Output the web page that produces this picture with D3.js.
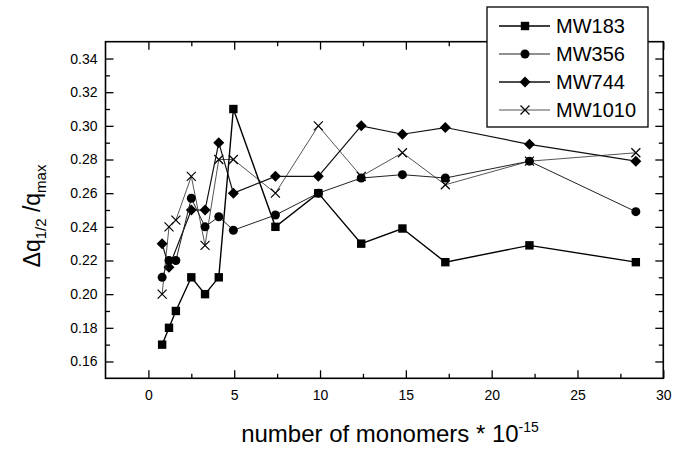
<!DOCTYPE html>
<html><head><meta charset="utf-8">
<script src="https://cdn.jsdelivr.net/npm/d3@7"></script>
<style>
body{margin:0;background:#fff;}
text{font-family:Arial,"Liberation Sans",Helvetica,sans-serif;}
</style></head>
<body><svg id="chart" width="684" height="449"></svg>
<script>
// ---- data ----
const xValues = [0.8, 1.2, 1.6, 2.5, 3.3, 4.1, 4.95, 7.4, 9.9, 12.4, 14.8, 17.3, 22.2, 28.4];
const mw183  = [0.170, 0.180, 0.190, 0.210, 0.200, 0.210, 0.310, 0.240, 0.260, 0.230, 0.239, 0.219, 0.229, 0.219];
const mw356  = [0.210, 0.220, 0.220, 0.257, 0.240, 0.246, 0.238, 0.247, 0.260, 0.269, 0.271, 0.269, 0.279, 0.249];
const mw744  = [0.230, 0.216, null,  0.250, 0.250, 0.290, 0.260, 0.270, 0.270, 0.300, 0.295, 0.299, 0.289, 0.279];
const mw1010 = [0.200, 0.240, 0.244, 0.270, 0.229, 0.280, 0.280, 0.260, 0.300, 0.270, 0.284, 0.265, 0.279, 0.284];
const seriesNames = ["MW183", "MW356", "MW744", "MW1010"];
const xTicks = [0, 5, 10, 15, 20, 25, 30];
const xMinorTicks = [2.5, 7.5, 12.5, 17.5, 22.5, 27.5];
const yTicks = [0.16, 0.18, 0.20, 0.22, 0.24, 0.26, 0.28, 0.30, 0.32, 0.34];
const yMinorTicks = [0.17, 0.19, 0.21, 0.23, 0.25, 0.27, 0.29, 0.31, 0.33];

const series = [
  {name: seriesNames[3], values: mw1010, marker: "x",       stroke: "#555", width: 1},
  {name: seriesNames[2], values: mw744,  marker: "diamond", stroke: "#111", width: 1.2},
  {name: seriesNames[1], values: mw356,  marker: "circle",  stroke: "#222", width: 1},
  {name: seriesNames[0], values: mw183,  marker: "square",  stroke: "#000", width: 1.4}
];

const svg = d3.select("#chart");
const L = 105.5, R = 663.3, T = 41.7, B = 378.3;
const x = d3.scaleLinear().domain([-2.5, 30]).range([L, R]);
const y = d3.scaleLinear().domain([0.15, 0.35]).range([B, T]);

// axes (ticks inward on all four sides)
const fmtY = d3.format(".2f");
function styleAxis(g){ g.select(".domain").remove(); g.selectAll("line").attr("stroke","#000").attr("stroke-width",1.3); }
svg.append("g").attr("transform",`translate(0,${B})`)
  .call(d3.axisBottom(x).tickValues(xTicks).tickSize(-8).tickPadding(12).tickFormat(d3.format("d")))
  .call(styleAxis).selectAll("text").attr("font-size",14).attr("fill","#000");
svg.append("g").attr("transform",`translate(0,${B})`)
  .call(d3.axisBottom(x).tickValues(xMinorTicks).tickSize(-4.5).tickFormat(""))
  .call(styleAxis);
svg.append("g").attr("transform",`translate(0,${T})`)
  .call(d3.axisTop(x).tickValues(xTicks).tickSize(-8).tickFormat(""))
  .call(styleAxis);
svg.append("g").attr("transform",`translate(0,${T})`)
  .call(d3.axisTop(x).tickValues(xMinorTicks).tickSize(-4.5).tickFormat(""))
  .call(styleAxis);
svg.append("g").attr("transform",`translate(${L},0)`)
  .call(d3.axisLeft(y).tickValues(yTicks).tickSize(-8).tickPadding(8).tickFormat(fmtY))
  .call(styleAxis).selectAll("text").attr("font-size",14).attr("fill","#000");
svg.append("g").attr("transform",`translate(${L},0)`)
  .call(d3.axisLeft(y).tickValues(yMinorTicks).tickSize(-4.5).tickFormat(""))
  .call(styleAxis);
svg.append("g").attr("transform",`translate(${R},0)`)
  .call(d3.axisRight(y).tickValues(yTicks).tickSize(-8).tickFormat(""))
  .call(styleAxis);
svg.append("g").attr("transform",`translate(${R},0)`)
  .call(d3.axisRight(y).tickValues(yMinorTicks).tickSize(-4.5).tickFormat(""))
  .call(styleAxis);

svg.append("rect").attr("x",L).attr("y",T).attr("width",R-L).attr("height",B-T)
  .attr("fill","none").attr("stroke","#000").attr("stroke-width",1.6);

// markers
function drawMarker(g, type, cx, cy, stroke){
  if(type==="square"){
    g.append("rect").attr("x",cx-4.2).attr("y",cy-4.2).attr("width",8.4).attr("height",8.4).attr("fill","#000");
  } else if(type==="circle"){
    g.append("circle").attr("cx",cx).attr("cy",cy).attr("r",4.5).attr("fill","#000");
  } else if(type==="diamond"){
    g.append("path").attr("d",`M${cx},${cy-5.5}L${cx+5.5},${cy}L${cx},${cy+5.5}L${cx-5.5},${cy}Z`).attr("fill","#000");
  } else {
    g.append("path").attr("d",`M${cx-4.5},${cy-4.5}L${cx+4.5},${cy+4.5}M${cx-4.5},${cy+4.5}L${cx+4.5},${cy-4.5}`)
      .attr("stroke","#000").attr("stroke-width",1.2).attr("fill","none");
  }
}

const line = d3.line().defined(d=>d[1]!==null).x(d=>x(d[0])).y(d=>y(d[1]));
series.forEach(s=>{
  const pts = xValues.map((xv,i)=>[xv, s.values[i]]).filter(d=>d[1]!==null);
  const g = svg.append("g");
  g.append("path").datum(pts).attr("d",line).attr("fill","none")
    .attr("stroke",s.stroke).attr("stroke-width",s.width);
  pts.forEach(p=>drawMarker(g, s.marker, x(p[0]), y(p[1]), s.stroke));
});

// legend
const leg = svg.append("g");
leg.append("rect").attr("x",487).attr("y",7).attr("width",161).attr("height",120)
  .attr("fill","#fff").attr("stroke","#000").attr("stroke-width",1.3);
const legOrder = [series[3], series[2], series[1], series[0]];
legOrder.forEach((s,i)=>{
  const cy = 26 + i*28;
  leg.append("line").attr("x1",499).attr("x2",550).attr("y1",cy).attr("y2",cy)
    .attr("stroke",s.stroke).attr("stroke-width",s.width+0.2);
  drawMarker(leg, s.marker, 525, cy, s.stroke);
  leg.append("text").attr("x",556).attr("y",cy+7).attr("font-size",20).attr("fill","#000").text(s.name);
});

// axis titles
const xt = svg.append("text").attr("x",390).attr("y",442).attr("text-anchor","middle")
  .attr("font-size",24).attr("fill","#000");
xt.append("tspan").text("number of monomers * 10");
xt.append("tspan").attr("dy",-10).attr("font-size",14).text("-15");

const yt = svg.append("text").attr("transform","translate(40,216) rotate(-90)")
  .attr("text-anchor","middle").attr("font-size",23).attr("fill","#000");
yt.append("tspan").text("Δq");
yt.append("tspan").attr("dy",6).attr("font-size",15).text("1/2");
yt.append("tspan").attr("dy",-6).text(" /q");
yt.append("tspan").attr("dy",6).attr("font-size",15).text("max");
</script></body></html>
